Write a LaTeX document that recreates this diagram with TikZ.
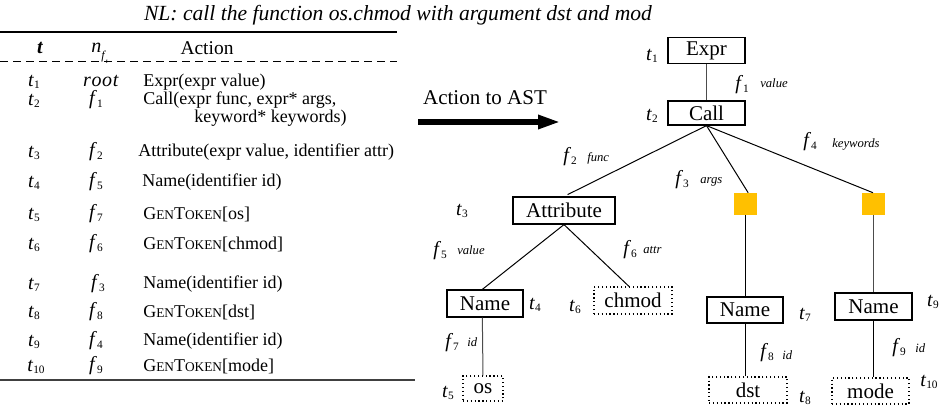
\documentclass[tikz,border=0pt]{standalone}
\usepackage{fontspec}
\setmainfont{Liberation Serif}
\usetikzlibrary{arrows.meta}
\newcommand\tsub[2]{\textit{#1}\raisebox{-0.12em}{\fontsize{8.5pt}{9pt}\selectfont #2}}
\newcommand\gtok[1]{G{\fontsize{10pt}{10pt}\selectfont EN}T{\fontsize{10pt}{10pt}\selectfont OKEN}[#1]}
\begin{document}
\begin{tikzpicture}[x=0.75pt,y=-0.75pt,
  tbl/.style={inner sep=0pt,font=\fontsize{13.5pt}{15pt}\selectfont},
  lab/.style={inner sep=0pt,font=\fontsize{15pt}{16pt}\selectfont},
  word/.style={inner sep=0pt,font=\fontsize{9.5pt}{10pt}\selectfont\itshape},
  astbox/.style={draw,line width=0.9pt,inner sep=0pt,minimum height=19.5pt,font=\fontsize{15.75pt}{16pt}\selectfont},
  tokbox/.style={astbox,dotted},
  slot/.style={fill=sqc,minimum width=17.25pt,minimum height=16.5pt,inner sep=0pt},
  edge/.style={line width=0.75pt},
]
\definecolor{sqc}{HTML}{FFC000}
\useasboundingbox (0,0) rectangle (940,410);
% title
\node[inner sep=0pt,font=\fontsize{16.2pt}{17pt}\selectfont\itshape] (title) at (398,15) {NL: call the function os.chmod with argument dst and mod};
% table rules
\coordinate (r1a) at (0,32); \coordinate (r1b) at (397,32);
\draw[line width=1.5pt] (r1a) -- (r1b);
\coordinate (r2a) at (0,62); \coordinate (r2b) at (397,62);
\draw[line width=0.75pt,dash pattern=on 6pt off 3.75pt] (r2a) -- (r2b);
\coordinate (r3a) at (0,380); \coordinate (r3b) at (415,380);
\draw[line width=0.9pt,black!75] (r3a) -- (r3b);
% header
\node[lab,font=\fontsize{15pt}{16pt}\selectfont\bfseries\itshape] (ht) at (40,48) {t};
\node[lab,anchor=base west] (hn) at (91,53) {\textit{n}\raisebox{-0.35em}{\fontsize{9pt}{9pt}\selectfont\textit{f}\raisebox{-0.3em}{\fontsize{5pt}{5pt}\selectfont\textit{t}}}};
\node[tbl,font=\fontsize{14.6pt}{15pt}\selectfont] (ha) at (207,48) {Action};
% rows
\node[lab] (t1) at (34,82) {\tsub{t}{1}};
\node[lab] (n1) at (101,81) {\textit{r\kern0.5pt o\kern0.5pt o\kern0.5pt t}};
\node[tbl,anchor=west] (a1) at (143,82) {Expr(expr value)};
\node[lab] (t2) at (34,101) {\tsub{t}{2}};
\node[lab] (n2) at (96,100) {\tsub{f}{1}};
\node[tbl,anchor=west] (a2) at (143,100) {Call(expr func, expr* args,};
\node[tbl,anchor=east] (a2b) at (347,118) {keyword* keywords)};
\node[lab] (t3) at (34,153) {\tsub{t}{3}};
\node[lab] (n3) at (96,152) {\tsub{f}{2}};
\node[tbl,anchor=west] (a3) at (138,152) {Attribute(expr value, identifier attr)};
\node[lab] (t4) at (34,183) {\tsub{t}{4}};
\node[lab] (n4) at (96,182) {\tsub{f}{5}};
\node[tbl,anchor=west] (a4) at (142,182) {Name(identifier id)};
\node[lab] (t5) at (34,215) {\tsub{t}{5}};
\node[lab] (n5) at (96,214) {\tsub{f}{7}};
\node[tbl,anchor=west] (a5) at (143,214) {\gtok{os}};
\node[lab] (t6) at (34,245) {\tsub{t}{6}};
\node[lab] (n6) at (96,244) {\tsub{f}{6}};
\node[tbl,anchor=west] (a6) at (143,244) {\gtok{chmod}};
\node[lab] (t7) at (34,285) {\tsub{t}{7}};
\node[lab] (n7) at (98,284) {\tsub{f}{3}};
\node[tbl,anchor=west] (a7) at (143,284) {Name(identifier id)};
\node[lab] (t8) at (34,313) {\tsub{t}{8}};
\node[lab] (n8) at (96,312) {\tsub{f}{8}};
\node[tbl,anchor=west] (a8) at (143,312) {\gtok{dst}};
\node[lab] (t9) at (34,342) {\tsub{t}{9}};
\node[lab] (n9) at (96,341) {\tsub{f}{4}};
\node[tbl,anchor=west] (a9) at (143,341) {Name(identifier id)};
\node[lab] (t10) at (36,367) {\tsub{t}{10}};
\node[lab] (n10) at (96,366) {\tsub{f}{9}};
\node[tbl,anchor=west] (a10) at (143,366) {\gtok{mode}};
% big arrow
\node[inner sep=0pt,font=\fontsize{15.75pt}{16pt}\selectfont] (act) at (485,98) {Action to AST};
\coordinate (arA) at (418,122); \coordinate (arB) at (560,122);
\draw[line width=3.8pt,-{Triangle[length=16.5pt,width=10pt]}] (arA) -- (arB);
% tree nodes
\node[astbox,minimum width=57.75pt] (expr) at (706.5,50.5) {Expr};
\node[astbox,minimum width=57.75pt,minimum height=18pt] (call) at (706.5,113) {Call};
\node[astbox,minimum width=76.5pt,minimum height=20.25pt] (attr) at (564,210.5) {Attribute};
\node[slot] (sq1) at (745.5,204) {};
\node[slot] (sq2) at (873,204) {};
\node[astbox,minimum width=57pt,minimum height=20.25pt] (nm1) at (485,303.5) {Name};
\node[tokbox,minimum width=58.5pt,minimum height=20.25pt] (chmod) at (633,300.5) {chmod};
\node[tokbox,minimum width=30pt,minimum height=18.75pt] (os) at (483,388.5) {os};
\node[astbox,minimum width=57pt] (nm2) at (745,310) {Name};
\node[tokbox,minimum width=58.5pt] (dst) at (748,390) {dst};
\node[astbox,minimum width=57.75pt,minimum height=20.25pt] (nm3) at (873.5,306.5) {Name};
\node[tokbox,minimum width=57.75pt] (mode) at (870.5,391) {mode};
% edges
\draw[edge,black!70] (expr.south) -- (call.north);
\draw[edge,shorten >=3pt] (call.south) -- (attr.north);
\draw[edge] (call.south) -- ([xshift=2pt]sq1.north);
\draw[edge] (call.south) -- (sq2.north);
\draw[edge] (attr.south) -- ([xshift=-2pt]nm1.north);
\draw[edge] (attr.south) -- ([xshift=-3pt]chmod.north);
\draw[edge,black!70] ([xshift=-2pt]nm1.south) -- (os.north);
\draw[edge] (sq1.south) -- (sq1.south |- nm2.north);
\draw[edge] (sq1.south |- nm2.south) -- (sq1.south |- dst.north);
\draw[edge,black!70] (sq2.south) -- (sq2.south |- nm3.north);
\draw[edge] (sq2.south |- nm3.south) -- (sq2.south |- mode.north);
% tree t labels
\node[lab] (lt1) at (652,56) {\tsub{t}{1}};
\node[lab] (lt2) at (652,116) {\tsub{t}{2}};
\node[lab] (lt3) at (462,211) {\tsub{t}{3}};
\node[lab] (lt4) at (535,305) {\tsub{t}{4}};
\node[lab] (lt5) at (448,393) {\tsub{t}{5}};
\node[lab] (lt6) at (575,307) {\tsub{t}{6}};
\node[lab] (lt7) at (805,315) {\tsub{t}{7}};
\node[lab] (lt8) at (805,398) {\tsub{t}{8}};
\node[lab] (lt9) at (933,302) {\tsub{t}{9}};
\node[lab] (lt10) at (929,382) {\tsub{t}{10}};
% tree f labels
\node[lab,anchor=west] (lf1) at (735,85) {\tsub{f}{1}};
\node[word,anchor=west] (w1) at (760,83) {value};
\node[lab,anchor=west] (lf2) at (563,157) {\tsub{f}{2}};
\node[word,anchor=west] (w2) at (587,158) {func};
\node[lab,anchor=west] (lf3) at (675,180) {\tsub{f}{3}};
\node[word,anchor=west] (w3) at (700,182) {args};
\node[lab,anchor=west] (lf4) at (803,142) {\tsub{f}{4}};
\node[word,anchor=west] (w4) at (832,144) {keywords};
\node[lab,anchor=west] (lf5) at (433,251) {\tsub{f}{5}};
\node[word,anchor=west] (w5) at (457,250) {value};
\node[lab,anchor=west] (lf6) at (623,250) {\tsub{f}{6}};
\node[word,anchor=west] (w6) at (643,250) {attr};
\node[lab,anchor=west] (lf7) at (445,343) {\tsub{f}{7}};
\node[word,anchor=west] (w7) at (467,342) {id};
\node[lab,anchor=west] (lf8) at (760,353) {\tsub{f}{8}};
\node[word,anchor=west] (w8) at (782,355) {id};
\node[lab,anchor=west] (lf9) at (892,348) {\tsub{f}{9}};
\node[word,anchor=west] (w9) at (915,348) {id};
\end{tikzpicture}
\end{document}
